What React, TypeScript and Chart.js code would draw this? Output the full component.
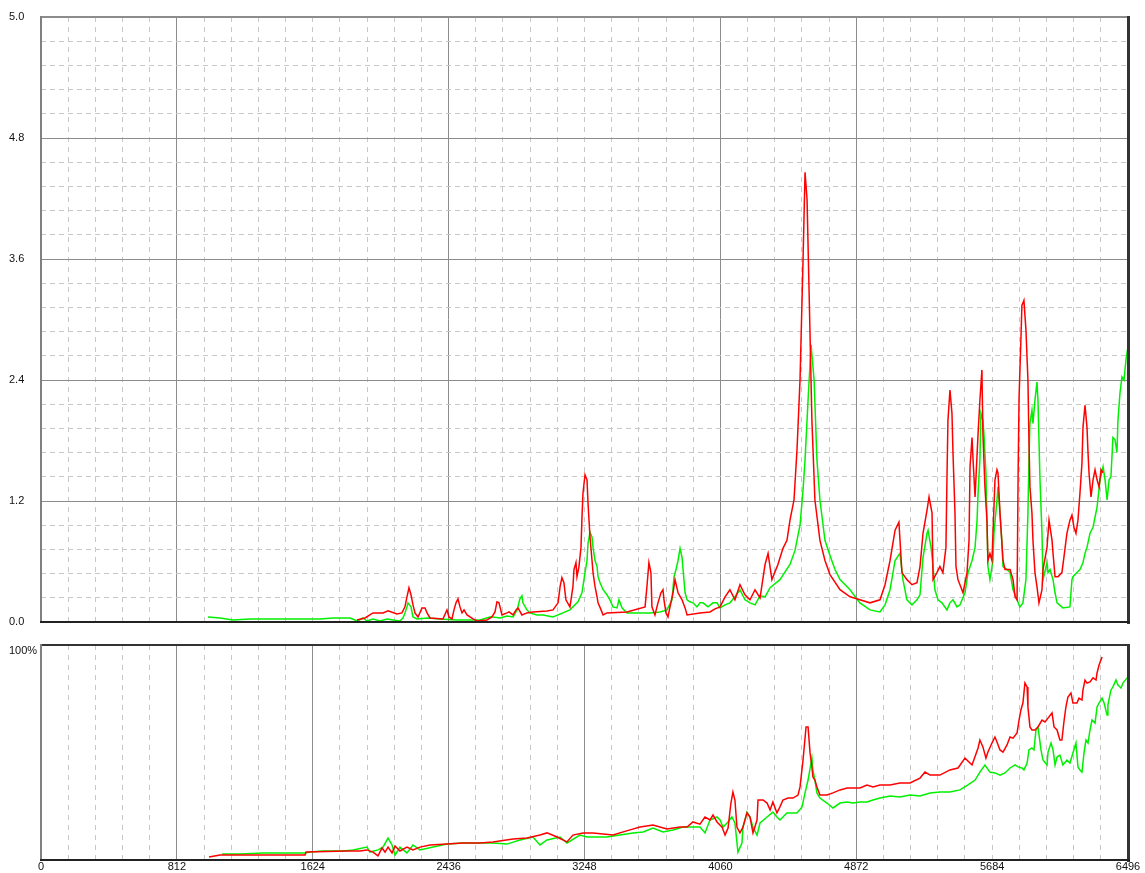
import { useEffect, useRef } from 'react';
import { Chart, registerables } from 'chart.js';

Chart.register(...registerables);

// ---- axes ----
const xMajorTicks = [0, 812, 1624, 2436, 3248, 4060, 4872, 5684, 6496];
const xTickLabels = ['0', '812', '1624', '2436', '3248', '4060', '4872', '5684', '6496'];
const topSolidX = [812, 2436, 4060, 4872];
const bottomSolidX = [812, 1624, 2436, 3248, 4872];
const topYMajorTicks = [0, 1.2, 2.4, 3.6, 4.8, 6.0];
const topYLabels = ['0.0', '1.2', '2.4', '3.6', '4.8', '5.0'];
const bottomYMax = 100;
const bottomYLabel = '100%';

// ---- top chart series ----
const topRedX = [1888,1936,1984,2044,2074,2127,2157,2175,2187,2199,2211,2223,2235,2253,2277,2295,2307,2325,2402,2426,2438,2456,2468,2480,2492,2504,2516,2528,2546,2582,2606,2665,2695,2713,2725,2737,2755,2785,2797,2821,2839,2851,2874,2904,2940,3024,3060,3090,3102,3113,3125,3137,3161,3179,3185,3197,3203,3215,3227,3233,3239,3251,3263,3269,3281,3293,3299,3311,3323,3329,3347,3359,3382,3502,3610,3621,3633,3645,3651,3669,3687,3705,3717,3723,3735,3747,3759,3777,3789,3807,3831,3849,3861,3938,3998,4028,4058,4088,4117,4147,4177,4207,4237,4267,4297,4327,4345,4368,4404,4434,4458,4476,4500,4518,4536,4554,4566,4578,4590,4607,4625,4655,4685,4715,4775,4835,4894,4954,5014,5044,5074,5104,5127,5145,5175,5205,5235,5253,5271,5295,5307,5325,5331,5354,5372,5390,5408,5414,5420,5432,5444,5450,5462,5468,5480,5510,5534,5546,5552,5564,5570,5582,5600,5611,5623,5629,5641,5653,5659,5671,5683,5701,5713,5719,5731,5749,5761,5791,5809,5821,5833,5839,5845,5856,5862,5874,5886,5898,5904,5910,5922,5928,5940,5952,5964,5982,5988,6012,6024,6042,6048,6060,6078,6101,6113,6131,6149,6161,6173,6185,6197,6209,6221,6227,6239,6251,6257,6263,6275,6287,6299,6311,6323,6335,6347];
const topRedY = [0.02,0.04,0.09,0.09,0.11,0.08,0.09,0.15,0.25,0.34,0.27,0.17,0.09,0.05,0.14,0.14,0.09,0.04,0.03,0.12,0.05,0.03,0.12,0.19,0.23,0.15,0.09,0.12,0.07,0.03,0.01,0.02,0.05,0.10,0.20,0.19,0.07,0.09,0.10,0.07,0.12,0.14,0.07,0.09,0.10,0.11,0.12,0.19,0.35,0.44,0.39,0.22,0.15,0.35,0.52,0.59,0.45,0.55,0.74,1.04,1.28,1.46,1.41,1.18,0.84,0.61,0.49,0.35,0.25,0.19,0.12,0.07,0.09,0.10,0.15,0.35,0.59,0.49,0.15,0.07,0.19,0.29,0.32,0.22,0.09,0.05,0.15,0.29,0.42,0.29,0.22,0.14,0.07,0.09,0.10,0.13,0.15,0.25,0.32,0.22,0.37,0.27,0.22,0.32,0.24,0.57,0.68,0.42,0.57,0.73,0.81,1.01,1.21,1.71,2.40,3.59,4.46,4.19,3.29,2.00,1.21,0.81,0.61,0.47,0.32,0.25,0.22,0.19,0.22,0.37,0.61,0.91,0.99,0.49,0.42,0.37,0.39,0.55,0.88,1.11,1.24,1.08,0.42,0.49,0.55,0.49,0.74,1.41,2.00,2.30,2.07,1.68,1.08,0.55,0.42,0.29,0.49,0.81,1.54,1.83,1.61,1.24,1.87,2.20,2.50,1.87,1.34,1.01,0.61,0.68,0.61,1.41,1.51,1.48,1.08,0.61,0.52,0.52,0.42,0.25,0.22,1.41,2.23,2.80,3.14,3.19,2.90,2.40,1.81,1.34,1.08,0.81,0.49,0.35,0.19,0.32,0.52,0.74,1.01,0.81,0.68,0.45,0.45,0.49,0.64,0.88,1.01,1.06,0.94,0.88,1.01,1.28,1.58,1.93,2.15,1.93,1.68,1.48,1.24,1.41,1.51,1.41,1.34,1.51,1.48];

const topGreenX = [998,1070,1147,1249,1369,1548,1667,1745,1847,1876,1894,1924,1948,1984,2026,2068,2104,2145,2163,2175,2187,2193,2211,2223,2247,2313,2384,2486,2522,2623,2683,2701,2743,2785,2821,2845,2862,2874,2880,2904,2922,2964,3000,3060,3119,3161,3209,3233,3251,3263,3269,3281,3293,3299,3311,3323,3329,3341,3359,3382,3400,3418,3442,3454,3472,3502,3538,3580,3639,3699,3741,3771,3783,3795,3807,3819,3831,3837,3849,3861,3878,3896,3920,3938,3956,3986,4016,4040,4058,4088,4117,4147,4177,4207,4237,4267,4297,4327,4357,4416,4476,4506,4536,4554,4566,4584,4602,4620,4637,4655,4685,4715,4745,4775,4835,4894,4954,5014,5044,5074,5104,5133,5151,5175,5205,5235,5253,5271,5295,5301,5319,5331,5342,5361,5384,5414,5432,5450,5474,5492,5522,5540,5564,5582,5594,5600,5611,5617,5629,5635,5647,5653,5659,5671,5689,5695,5713,5719,5731,5743,5749,5773,5791,5809,5833,5850,5868,5886,5898,5904,5910,5922,5928,5940,5952,5958,5970,5982,5988,6012,6018,6030,6048,6060,6072,6107,6149,6161,6167,6191,6209,6227,6239,6251,6269,6287,6311,6329,6347,6359,6371,6383,6394,6406,6418,6430,6436,6448,6460,6472,6484,6496];
const topGreenY = [0.05,0.04,0.02,0.03,0.03,0.03,0.03,0.04,0.04,0.02,0.01,0.04,0.01,0.03,0.01,0.03,0.02,0.01,0.04,0.09,0.15,0.19,0.15,0.05,0.03,0.04,0.03,0.02,0.02,0.02,0.05,0.05,0.04,0.06,0.05,0.12,0.23,0.26,0.19,0.12,0.09,0.07,0.07,0.05,0.09,0.12,0.20,0.29,0.49,0.61,0.78,0.89,0.84,0.74,0.61,0.55,0.45,0.39,0.32,0.27,0.22,0.15,0.14,0.22,0.14,0.09,0.09,0.09,0.09,0.10,0.12,0.22,0.45,0.52,0.61,0.73,0.64,0.52,0.29,0.22,0.20,0.19,0.15,0.19,0.19,0.15,0.19,0.19,0.14,0.17,0.19,0.25,0.32,0.22,0.19,0.17,0.26,0.25,0.34,0.42,0.57,0.71,0.96,1.31,1.61,2.20,2.75,2.40,1.61,1.21,0.81,0.66,0.52,0.42,0.32,0.19,0.12,0.10,0.17,0.32,0.61,0.68,0.42,0.22,0.17,0.22,0.27,0.64,0.88,0.91,0.74,0.55,0.32,0.22,0.19,0.12,0.19,0.22,0.15,0.17,0.29,0.49,0.61,0.74,1.01,1.28,1.61,2.07,2.00,1.87,1.48,1.01,0.55,0.42,0.61,0.88,1.21,1.34,1.08,0.78,0.55,0.52,0.49,0.32,0.22,0.15,0.19,0.42,1.08,1.61,1.97,2.10,1.97,2.20,2.38,2.20,1.41,0.88,0.42,0.59,0.49,0.52,0.42,0.29,0.19,0.14,0.15,0.42,0.45,0.49,0.52,0.59,0.68,0.74,0.88,0.94,1.14,1.41,1.54,1.41,1.21,1.41,1.44,1.83,1.81,1.68,2.00,2.27,2.43,2.40,2.60,2.73];

// ---- bottom chart series (percent) ----
const bottomRedX = [1004,1070,1309,1578,1584,1829,1906,1948,1984,2014,2038,2056,2074,2098,2116,2145,2187,2223,2265,2325,2426,2522,2623,2701,2821,2904,2982,3024,3084,3143,3179,3239,3299,3418,3520,3580,3657,3741,3819,3861,3896,3938,3968,3998,4016,4040,4070,4088,4106,4123,4135,4147,4159,4177,4195,4219,4237,4255,4279,4285,4315,4339,4357,4374,4398,4416,4434,4464,4494,4524,4536,4554,4572,4584,4596,4607,4613,4625,4637,4655,4697,4733,4775,4817,4853,4894,4936,4972,5014,5074,5133,5193,5253,5283,5313,5372,5432,5480,5522,5564,5600,5611,5629,5647,5659,5683,5701,5713,5731,5749,5773,5791,5809,5833,5845,5856,5868,5880,5893,5898,5910,5922,5940,5958,5982,6000,6018,6042,6054,6072,6089,6101,6113,6125,6137,6155,6167,6191,6203,6221,6227,6239,6251,6269,6287,6305,6311,6323,6341];
const bottomRedY = [1.4,2.3,2.3,2.3,3.7,4.2,4.2,4.7,3.7,1.9,5.6,3.7,6.0,3.3,6.5,4.2,6.0,4.7,6.0,7.0,7.4,7.9,7.9,8.4,9.8,10.2,11.6,12.6,10.7,8.4,11.6,12.6,12.6,11.6,14.0,15.3,16.3,14.4,15.3,15.3,17.7,16.7,20.0,18.6,20.9,17.7,15.3,11.6,14.9,26.5,31.6,27.9,15.3,12.6,15.3,21.9,20.0,12.6,18.6,27.9,27.9,26.5,23.3,27.0,21.9,24.7,27.9,28.8,28.8,30.2,34.0,46.5,61.9,61.9,49.8,43.3,38.6,37.2,34.0,30.2,30.2,31.2,32.6,33.5,33.5,33.5,34.9,34.0,34.9,34.9,35.8,35.8,38.1,40.9,39.5,39.5,41.9,42.8,47.4,44.2,52.1,55.8,52.6,47.4,50.2,54.4,57.2,54.9,51.2,50.2,53.5,57.2,56.7,59.1,65.1,69.8,73.0,82.3,80.5,71.2,61.9,60.5,60.5,61.9,65.1,64.2,66.0,68.4,61.9,60.5,55.8,55.8,64.2,71.2,75.8,77.7,73.0,73.0,75.3,74.4,79.1,83.7,82.3,82.8,84.7,83.7,87.0,90.7,94.4];

const bottomGreenX = [1082,1189,1327,1578,1608,1685,1805,1865,1948,1966,2014,2044,2074,2098,2116,2145,2187,2223,2265,2343,2426,2522,2623,2701,2785,2862,2940,2982,3024,3102,3143,3221,3263,3382,3460,3538,3598,3657,3717,3777,3837,3878,3938,3968,3998,4040,4058,4076,4100,4129,4147,4165,4189,4195,4219,4237,4255,4279,4297,4339,4374,4398,4416,4458,4518,4548,4566,4584,4607,4613,4625,4637,4655,4697,4733,4775,4817,4853,4894,4936,4972,5014,5074,5133,5193,5253,5313,5372,5432,5492,5540,5582,5611,5641,5671,5701,5731,5761,5791,5821,5839,5862,5874,5893,5904,5922,5934,5946,5958,5976,5988,6012,6018,6036,6048,6060,6072,6089,6107,6131,6149,6167,6185,6197,6209,6221,6233,6245,6257,6269,6281,6299,6311,6323,6341,6353,6371,6376,6394,6406,6424,6436,6454,6466,6490];
const bottomGreenY = [2.8,2.8,3.3,3.3,3.7,4.2,4.2,4.7,6.0,3.7,4.7,6.0,10.2,7.0,2.3,6.0,3.3,7.0,4.7,6.0,7.4,7.9,7.9,7.9,7.4,9.3,10.7,7.0,9.3,10.7,7.9,11.6,10.7,10.7,11.6,12.6,13.0,14.9,13.0,14.0,15.3,15.3,15.3,12.6,18.6,20.0,18.6,15.3,17.2,20.0,17.2,3.7,7.9,15.3,22.3,20.0,15.3,11.6,17.2,20.0,22.3,20.0,18.6,21.9,21.9,24.7,31.2,37.2,47.4,41.9,37.2,31.2,28.8,26.5,24.2,26.5,27.0,26.5,27.0,27.0,27.9,28.8,29.8,29.3,30.2,29.8,31.2,31.6,31.6,32.6,34.9,37.2,40.9,44.2,40.9,40.5,39.5,40.5,42.8,44.2,43.3,42.8,41.9,45.1,51.2,52.1,51.2,60.5,61.9,51.2,46.5,44.2,50.2,54.4,51.2,44.2,47.9,48.8,44.2,46.5,45.1,49.8,54.4,43.3,41.9,40.9,49.8,55.8,54.4,60.5,65.1,63.7,71.2,73.0,75.3,73.0,67.4,72.1,79.1,80.5,83.7,81.4,80.0,82.3,84.7];

const RED = '#ff0000';
const GREEN = '#00f000';
const FONT = "'Liberation Sans', Arial, sans-serif";

function subdivide(majors: number[], parts: number): number[] {
  const out: number[] = [];
  for (let i = 0; i < majors.length - 1; i++) {
    for (let k = 0; k < parts; k++) out.push(majors[i] + ((majors[i + 1] - majors[i]) * k) / parts);
  }
  out.push(majors[majors.length - 1]);
  return out;
}
const near = (a: number, list: number[]) => list.some((b) => Math.abs(a - b) < 1e-6);

function pts(xs: number[], ys: number[]) {
  return xs.map((x, i) => ({ x, y: ys[i] }));
}

const framePlugin = {
  id: 'frame',
  afterDatasetsDraw(chart: any, _args: any, opts: any) {
    const { ctx, chartArea } = chart;
    const { left, right, top, bottom } = chartArea;
    ctx.save();
    ctx.fillStyle = opts.topColor;
    ctx.fillRect(left - 1, top - 1, right - left + 2, 2);
    ctx.fillStyle = '#808080';
    ctx.fillRect(left - 1, top - 1, 2, bottom - top + 2);
    ctx.fillStyle = '#333333';
    ctx.fillRect(right - 1, top - 1, 3, bottom - top + 3);
    ctx.fillStyle = '#222222';
    ctx.fillRect(left - 1, bottom - 1, right - left + 3, 2);
    ctx.restore();
  },
};

function xGrid(solid: number[], skipDashed: number[]) {
  return {
    color: (c: any) => {
      const v = c.tick ? c.tick.value : null;
      if (v == null || v <= 0 || v >= 6496) return 'rgba(0,0,0,0)';
      if (near(v, solid)) return '#8c8c8c';
      if (near(v, skipDashed)) return 'rgba(0,0,0,0)';
      return '#c8c8c8';
    },
    lineWidth: 1,
    drawTicks: false,
  };
}

export default function App() {
  const topRef = useRef<HTMLCanvasElement>(null);
  const botRef = useRef<HTMLCanvasElement>(null);

  useEffect(() => {
    Chart.defaults.font.family = FONT;
    Chart.defaults.font.size = 11;
    Chart.defaults.color = '#111111';

    const xMinor = subdivide(xMajorTicks, 5);
    const yMinor = subdivide(topYMajorTicks, 5);

    const top = new Chart(topRef.current!, {
      type: 'line',
      data: {
        datasets: [
          { data: pts(topRedX, topRedY), borderColor: RED, borderWidth: 1.5, pointRadius: 0, tension: 0 },
          { data: pts(topGreenX, topGreenY), borderColor: GREEN, borderWidth: 1.5, pointRadius: 0, tension: 0 },
        ],
      },
      options: {
        responsive: false,
        animation: false,
        events: [],
        layout: { padding: { top: 17, right: 17, bottom: 10, left: 9 } },
        plugins: { legend: { display: false }, tooltip: { enabled: false }, frame: { topColor: '#8c8c8c' } } as any,
        scales: {
          x: {
            type: 'linear',
            min: 0,
            max: 6496,
            afterBuildTicks: (axis: any) => {
              axis.ticks = xMinor.map((v) => ({ value: v }));
            },
            afterFit: (axis: any) => {
              axis.height = 0;
            },
            ticks: { display: false },
            grid: xGrid(topSolidX, []),
            border: { display: false, dash: (c: any) => (c.tick && near(c.tick.value, topSolidX) ? [] : [5, 5]) } as any,
          },
          y: {
            type: 'linear',
            min: 0,
            max: 6,
            afterBuildTicks: (axis: any) => {
              axis.ticks = yMinor.map((v) => ({ value: v }));
            },
            afterFit: (axis: any) => {
              axis.width = 32;
            },
            ticks: {
              autoSkip: false,
              crossAlign: 'far',
              padding: 0,
              callback: (_v: any, i: number) => (i % 5 === 0 ? topYLabels[i / 5] : ''),
            },
            grid: {
              drawTicks: false,
              lineWidth: 1,
              color: (c: any) => {
                const v = c.tick ? c.tick.value : null;
                if (v == null || v <= 0 || v >= 6) return 'rgba(0,0,0,0)';
                if (near(v, topYMajorTicks)) return '#8c8c8c';
                return '#c8c8c8';
              },
            },
            border: { display: false, dash: (c: any) => (c.tick && near(c.tick.value, topYMajorTicks) ? [] : [5, 4]) } as any,
          },
        },
      },
      plugins: [framePlugin],
    });

    const bottom = new Chart(botRef.current!, {
      type: 'line',
      data: {
        datasets: [
          { data: pts(bottomRedX, bottomRedY), borderColor: RED, borderWidth: 1.5, pointRadius: 0, tension: 0 },
          { data: pts(bottomGreenX, bottomGreenY), borderColor: GREEN, borderWidth: 1.5, pointRadius: 0, tension: 0 },
        ],
      },
      options: {
        responsive: false,
        animation: false,
        events: [],
        layout: { padding: { top: 13, right: 17, bottom: 0, left: 9 } },
        plugins: { legend: { display: false }, tooltip: { enabled: false }, frame: { topColor: '#333333' } } as any,
        scales: {
          x: {
            type: 'linear',
            min: 0,
            max: 6496,
            afterBuildTicks: (axis: any) => {
              axis.ticks = xMinor.map((v) => ({ value: v }));
            },
            afterFit: (axis: any) => {
              axis.height = 13;
            },
            ticks: {
              autoSkip: false,
              maxRotation: 0,
              padding: 0,
              callback: (_v: any, i: number) => (i % 5 === 0 ? xTickLabels[i / 5] : ''),
            },
            grid: xGrid(bottomSolidX, [4060]),
            border: { display: false, dash: (c: any) => (c.tick && near(c.tick.value, bottomSolidX) ? [] : [5, 5]) } as any,
          },
          y: {
            type: 'linear',
            min: 0,
            max: bottomYMax,
            afterBuildTicks: (axis: any) => {
              axis.ticks = [{ value: bottomYMax }];
            },
            afterFit: (axis: any) => {
              axis.width = 32;
            },
            ticks: {
              autoSkip: false,
              crossAlign: 'far',
              padding: 0,
              labelOffset: 6,
              callback: () => bottomYLabel,
            },
            grid: { display: false },
            border: { display: false },
          },
        },
      },
      plugins: [framePlugin],
    });

    return () => {
      top.destroy();
      bottom.destroy();
    };
  }, []);

  return (
    <div style={{ position: 'absolute', left: 0, top: 0, width: 1145, height: 873, background: '#ffffff' }}>
      <canvas ref={topRef} width={1145} height={632} style={{ position: 'absolute', left: 0, top: 0, display: 'block' }} />
      <canvas ref={botRef} width={1145} height={241} style={{ position: 'absolute', left: 0, top: 632, display: 'block' }} />
    </div>
  );
}
